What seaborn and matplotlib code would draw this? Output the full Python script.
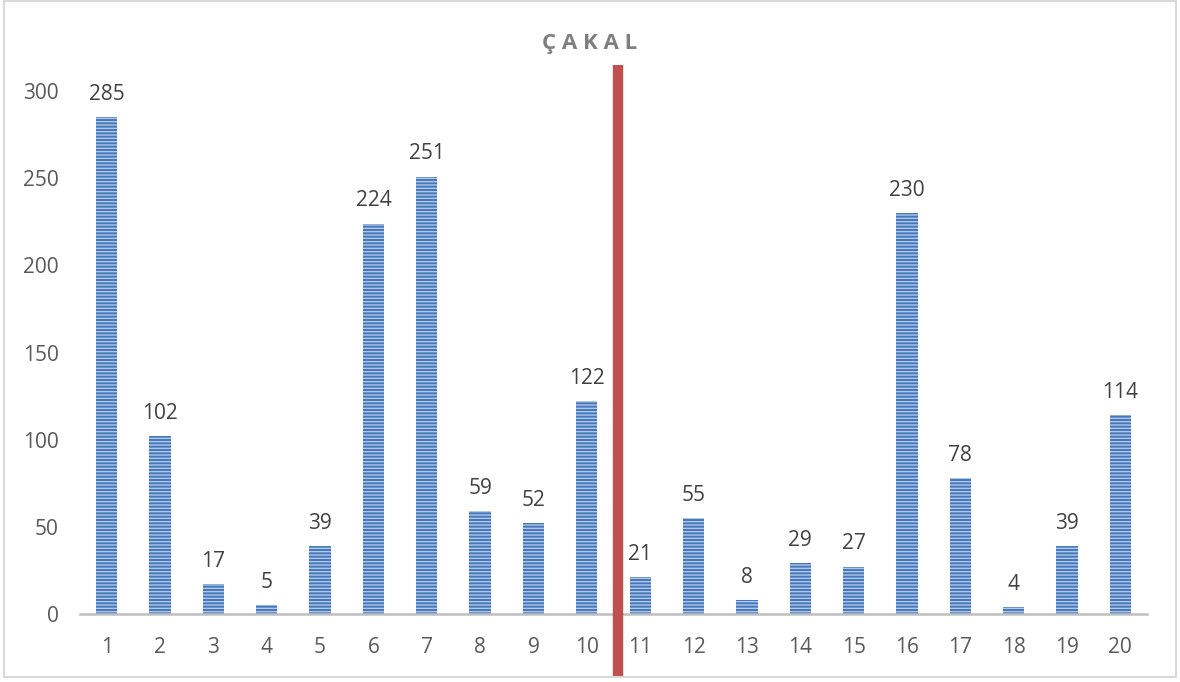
import matplotlib
matplotlib.use("Agg")
import matplotlib.pyplot as plt
import seaborn as sns
import pandas as pd
from matplotlib.patches import Rectangle

categories = [str(i) for i in range(1, 21)]
values = [285, 102, 17, 5, 39, 224, 251, 59, 52, 122,
          21, 55, 8, 29, 27, 230, 78, 4, 39, 114]
yticks = [0, 50, 100, 150, 200, 250, 300]
title = "ÇAKAL"

sns.set_theme(style="white")
plt.rcParams["font.family"] = ["Open Sans", "DejaVu Sans"]
plt.rcParams["hatch.linewidth"] = 1.0

df = pd.DataFrame({"cat": categories, "val": values})

fig = plt.figure(figsize=(11.8, 6.82), dpi=100)
ax = fig.add_axes([80 / 1180, 1 - 614 / 682, (1147 - 80) / 1180, (614 - 65) / 682])

sns.barplot(data=df, x="cat", y="val", color="#4f81bd", width=0.4,
            saturation=1, ax=ax)
for p in ax.patches:
    p.set_facecolor("#4677ba")
    p.set_edgecolor("#b0c8ea")
    p.set_linewidth(0)
    p.set_hatch("-----")

ax.set_xlim(-0.5, 19.5)
ax.set_ylim(0, 315)
ax.set_yticks(yticks)
ax.set_xlabel("")
ax.set_ylabel("")
ax.tick_params(axis="both", length=0, labelsize=15, colors="#595959")
ax.tick_params(axis="x", pad=16.5)
ax.tick_params(axis="y", pad=15.5)
for s in ["top", "right", "left"]:
    ax.spines[s].set_visible(False)
ax.spines["bottom"].set_color("#bfbfbf")
ax.spines["bottom"].set_linewidth(1.8)

for i, v in enumerate(values):
    ax.annotate(str(v), (i, v), xytext=(0, 9), textcoords="offset points",
                ha="center", va="bottom", fontsize=15, color="#404040")

# divider between the two groups of sites
ax.axvline(9.575, ymin=(614 - 677) / 549, ymax=1, color="#c0504d",
           linewidth=7.5, clip_on=False, zorder=5, solid_capstyle="butt")

fig.text(0.5, 1 - 44 / 682, "Ç A K A L", ha="center", va="center",
         fontsize=16, fontweight="bold", color="#7f7f7f")

fig.patches.append(Rectangle((4 / 1180, 1 - 677 / 682), 1172 / 1180, 676 / 682,
                             transform=fig.transFigure, fill=False,
                             edgecolor="#d9d9d9", linewidth=1.5))

fig.savefig("out.png", dpi=100)
